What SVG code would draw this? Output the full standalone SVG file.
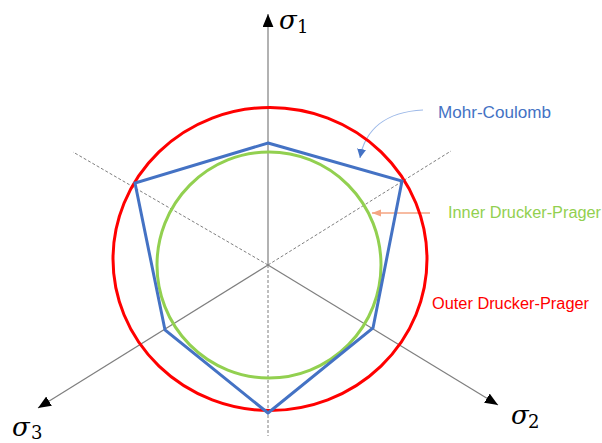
<svg xmlns="http://www.w3.org/2000/svg" width="602" height="443" viewBox="0 0 602 443">
<style>
.axis{stroke:#7f7f7f;stroke-width:1.2;fill:none}
.dash{stroke:#7f7f7f;stroke-width:1;stroke-dasharray:3 2;fill:none}
.lbl{font-family:"Liberation Sans",Arial,sans-serif;font-size:16px}
.sig{font-family:"DejaVu Serif","Liberation Serif",serif;font-style:italic;font-size:26px;fill:#000}
.sub{font-family:"DejaVu Serif","Liberation Serif",serif;font-size:18px;fill:#000}
</style>
<defs>
<marker id="ah" viewBox="0 0 12 10" refX="12" refY="5" markerWidth="13" markerHeight="11" markerUnits="userSpaceOnUse" orient="auto"><path d="M0,0 L12,5 L0,10 Z" fill="#000"/></marker>
<marker id="ahb" viewBox="0 0 10 10" refX="10" refY="5" markerWidth="9" markerHeight="9" markerUnits="userSpaceOnUse" orient="auto"><path d="M0,0 L10,5 L0,10 Z" fill="#4472C4"/></marker>
<marker id="aho" viewBox="0 0 10 10" refX="10" refY="5" markerWidth="9" markerHeight="9" markerUnits="userSpaceOnUse" orient="auto"><path d="M0,1 L10,5 L0,9 Z" fill="#F4A582"/></marker>
</defs>
<g id="connectors">
<line class="axis" x1="268" y1="265" x2="268" y2="14" marker-end="url(#ah)"/>
<line class="axis" x1="268" y1="265" x2="498" y2="405" marker-end="url(#ah)"/>
<line class="axis" x1="268" y1="265" x2="38" y2="408" marker-end="url(#ah)"/>
<line class="dash" x1="268" y1="265" x2="268" y2="436"/>
<line class="dash" x1="268" y1="265" x2="73" y2="152"/>
<line class="dash" x1="268" y1="265" x2="451" y2="151"/>
<path d="M423,110 C385,112 365,130 360,158" fill="none" stroke="#9DB9E8" stroke-width="1.2" marker-end="url(#ahb)"/>
<line x1="430" y1="213" x2="372" y2="213" stroke="#F4A582" stroke-width="1.5" marker-end="url(#aho)"/>
</g>
<g id="outer-dp">
<ellipse cx="270" cy="259" rx="157" ry="151.5" fill="none" stroke="#FF0000" stroke-width="3"/>
</g>
<g id="inner-dp">
<ellipse cx="269" cy="265" rx="112" ry="113" fill="none" stroke="#92D050" stroke-width="3"/>
</g>
<g id="mohr-coulomb">
<polygon points="268,143 402,181 373,328 268,413 165,330 135,183" fill="none" stroke="#4472C4" stroke-width="3" stroke-linejoin="miter"/>
</g>
<g id="labels">
<text class="sig" x="279" y="29">σ</text><text class="sub" x="297" y="33">1</text>
<text class="sig" x="511" y="424">σ</text><text class="sub" x="528" y="428">2</text>
<text class="sig" x="12" y="436">σ</text><text class="sub" x="31" y="439">3</text>
<text class="lbl" x="438" y="118" fill="#4472C4" textLength="113" lengthAdjust="spacingAndGlyphs">Mohr-Coulomb</text>
<text class="lbl" x="448" y="218" fill="#92D050" textLength="153" lengthAdjust="spacingAndGlyphs">Inner Drucker-Prager</text>
<text class="lbl" x="432" y="309" fill="#FF0000" textLength="157" lengthAdjust="spacingAndGlyphs">Outer Drucker-Prager</text>
</g>
</svg>
